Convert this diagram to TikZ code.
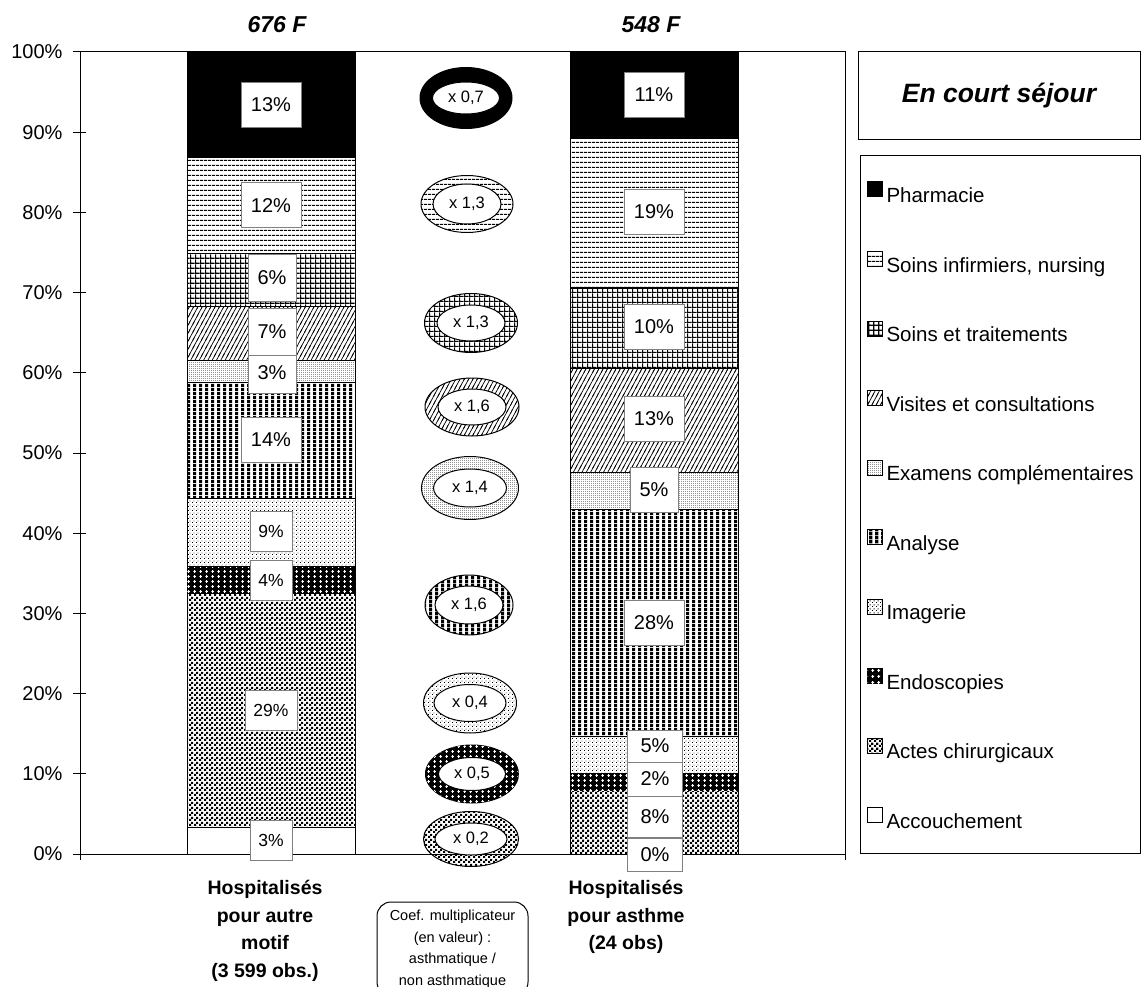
\documentclass[tikz,border=0pt]{standalone}
\usepackage{fontspec}
\setmainfont{Liberation Sans}
\usetikzlibrary{patterns,shapes.geometric}

% motifs:
\pgfdeclarepatternformonly{hlignes}{\pgfpoint{0pt}{0pt}}{\pgfpoint{4pt}{5.3pt}}{\pgfpoint{4pt}{5.3pt}}{%
  \pgfpathrectangle{\pgfpoint{0pt}{0pt}}{\pgfpoint{4pt}{1.2pt}}\pgfusepath{fill}}
\pgfdeclarepatternformonly{vlignes}{\pgfpoint{0pt}{0pt}}{\pgfpoint{5.5pt}{4pt}}{\pgfpoint{5.5pt}{4pt}}{%
  \pgfpathrectangle{\pgfpoint{0pt}{0pt}}{\pgfpoint{3.4pt}{4pt}}\pgfusepath{fill}}
\pgfdeclarepatternformonly{grille}{\pgfpoint{0pt}{0pt}}{\pgfpoint{5.3pt}{5.3pt}}{\pgfpoint{5.3pt}{5.3pt}}{%
  \pgfpathrectangle{\pgfpoint{0pt}{0pt}}{\pgfpoint{5.3pt}{1.4pt}}%
  \pgfpathrectangle{\pgfpoint{0pt}{0pt}}{\pgfpoint{1.4pt}{5.3pt}}\pgfusepath{fill}}
\pgfdeclarepatternformonly{hachures}{\pgfpoint{-1pt}{-2pt}}{\pgfpoint{5.3pt}{10pt}}{\pgfpoint{4.3pt}{8pt}}{%
  \pgfsetlinewidth{0.7pt}\pgfpathmoveto{\pgfpoint{-1pt}{-1.86pt}}\pgfpathlineto{\pgfpoint{5.3pt}{9.86pt}}\pgfusepath{stroke}}
\pgfdeclarepatternformonly{pointsfins}{\pgfpoint{0pt}{0pt}}{\pgfpoint{2.2pt}{2.2pt}}{\pgfpoint{2.2pt}{2.2pt}}{%
  \pgfpathrectangle{\pgfpoint{0pt}{0pt}}{\pgfpoint{0.9pt}{0.9pt}}\pgfusepath{fill}}
\pgfdeclarepatternformonly{points}{\pgfpoint{0pt}{0pt}}{\pgfpoint{4pt}{4pt}}{\pgfpoint{4pt}{4pt}}{%
  \pgfpathrectangle{\pgfpoint{0pt}{0pt}}{\pgfpoint{1pt}{1pt}}%
  \pgfpathrectangle{\pgfpoint{2pt}{2pt}}{\pgfpoint{1pt}{1pt}}\pgfusepath{fill}}
\pgfdeclarepatternformonly{croix}{\pgfpoint{0pt}{0pt}}{\pgfpoint{6pt}{5.4pt}}{\pgfpoint{6pt}{5.4pt}}{%
  \pgfpathrectangle{\pgfpoint{1.5pt}{2.2pt}}{\pgfpoint{3pt}{1pt}}%
  \pgfpathrectangle{\pgfpoint{2.5pt}{1.2pt}}{\pgfpoint{1pt}{3pt}}\pgfusepath{fill}}
\pgfdeclarepatternformonly{damier}{\pgfpoint{0pt}{0pt}}{\pgfpoint{4.6pt}{4.6pt}}{\pgfpoint{4.6pt}{4.6pt}}{%
  \pgfpathrectangle{\pgfpoint{0pt}{0pt}}{\pgfpoint{2.3pt}{2.3pt}}%
  \pgfpathrectangle{\pgfpoint{2.3pt}{2.3pt}}{\pgfpoint{2.3pt}{2.3pt}}\pgfusepath{fill}}

\begin{document}
\begin{tikzpicture}[x=1pt, y=-1pt, line width=1pt,
    pharmacie/.style={fill=black},
    nursing/.style={pattern=hlignes},
    soins/.style={pattern=grille},
    visites/.style={pattern=hachures},
    examens/.style={pattern=pointsfins},
    analyse/.style={pattern=vlignes},
    imagerie/.style={pattern=points},
    endoscopie/.style={fill=black, postaction={pattern=croix, pattern color=white}},
    actes/.style={pattern=damier},
    accouchement/.style={fill=white},
    pct/.style={draw=gray, fill=white, inner sep=0pt, minimum width=60pt, minimum height=45pt, font=\fontsize{20}{24}\selectfont},
    pctlow/.style={pct, minimum width=42pt, minimum height=40pt, font=\fontsize{17.5}{21}\selectfont},
    coef/.style={ellipse, draw, fill=white, inner sep=0pt, minimum width=68pt, minimum height=36pt, font=\fontsize{16.5}{20}\selectfont},
    axe/.style={anchor=east, inner sep=0pt, font=\fontsize{20}{24}\selectfont},
    cat/.style={align=center, inner sep=0pt, font=\bfseries\fontsize{19.5}{27.7}\selectfont},
    tot/.style={inner sep=0pt, font=\bfseries\itshape\fontsize{23}{27}\selectfont},
    leg/.style={anchor=base west, inner sep=0pt, font=\fontsize{20.5}{24}\selectfont}]
  \fill[white] (0,0) rectangle (1141,987);
  \useasboundingbox (0,0) rectangle (1141,987);
  % axes:
  \draw (80,52) -- (845,52) -- (845,860);
  \draw (80,52) -- (80,860);
  \draw (73,854) -- (845,854);
  \draw (73,773.8) -- (86,773.8) (73,693.6) -- (86,693.6) (73,613.4) -- (86,613.4)
        (73,533.2) -- (86,533.2) (73,453) -- (86,453) (73,372.8) -- (86,372.8)
        (73,292.6) -- (86,292.6) (73,212.4) -- (86,212.4) (73,132.2) -- (86,132.2) (73,52) -- (86,52);
  \node[axe] (p0) at (63,854) {0\%};
  \node[axe] (p10) at (63,773.8) {10\%};
  \node[axe] (p20) at (63,693.6) {20\%};
  \node[axe] (p30) at (63,613.4) {30\%};
  \node[axe] (p40) at (63,533.2) {40\%};
  \node[axe] (p50) at (63,453) {50\%};
  \node[axe] (p60) at (63,372.8) {60\%};
  \node[axe] (p70) at (63,292.6) {70\%};
  \node[axe] (p80) at (63,212.4) {80\%};
  \node[axe] (p90) at (63,132.2) {90\%};
  \node[axe] (p100) at (63,52) {100\%};
  % barre 1, autre motif:
  \draw[accouchement] (187,854) rectangle (355,827);
  \draw[actes] (187,827) rectangle (355,593);
  \draw[endoscopie] (187,593) rectangle (355,566);
  \draw[imagerie] (187,566) rectangle (355,498);
  \draw[analyse] (187,498) rectangle (355,382);
  \draw[examens] (187,382) rectangle (355,360);
  \draw[visites] (187,360) rectangle (355,306);
  \draw[soins] (187,306) rectangle (355,254);
  \draw[nursing] (187,254) rectangle (355,158);
  \draw[pharmacie] (187,158) rectangle (355,52);
  \node[pctlow] (a1) at (271,840) {3\%};
  \node[pctlow, minimum width=52pt] (a2) at (271,710) {29\%};
  \node[pctlow] (a3) at (271,580) {4\%};
  \node[pctlow] (a4) at (271,531.5) {9\%};
  \node[pct] (a5) at (271,440) {14\%};
  \node[pct, minimum width=48pt, minimum height=40pt] (a6) at (272,373) {3\%};
  \node[pct, minimum width=48pt, minimum height=47pt] (a7) at (272,331.5) {7\%};
  \node[pct, minimum width=48pt, minimum height=47pt] (a8) at (272,278) {6\%};
  \node[pct] (a9) at (271,205.5) {12\%};
  \node[pct] (a10) at (271,105) {13\%};
  % barre 2, asthme:
  \draw[actes] (570,854) rectangle (738,790);
  \draw[endoscopie] (570,790) rectangle (738,773);
  \draw[imagerie] (570,773) rectangle (738,736);
  \draw[analyse] (570,736) rectangle (738,509);
  \draw[examens] (570,509) rectangle (738,472);
  \draw[visites] (570,472) rectangle (738,368);
  \draw[soins] (570,368) rectangle (738,288);
  \draw[nursing] (570,288) rectangle (738,139);
  \draw[pharmacie] (570,139) rectangle (738,52);
  \node[pct, minimum width=55pt, minimum height=33pt] (b1) at (655,854.5) {0\%};
  \node[pct, minimum width=55pt, minimum height=41pt] (b2) at (655,817) {8\%};
  \node[pct, minimum width=55pt, minimum height=35pt] (b3) at (655,779) {2\%};
  \node[pct, minimum width=55pt, minimum height=32pt] (b4) at (655,746) {5\%};
  \node[pct] (b5) at (654,622.5) {28\%};
  \node[pct, minimum width=48pt] (b6) at (654,490) {5\%};
  \node[pct] (b7) at (654,418.5) {13\%};
  \node[pct] (b8) at (654,326.5) {10\%};
  \node[pct] (b9) at (654,212) {19\%};
  \node[pct] (b10) at (654,95) {11\%};
  % coefficients:
  \draw[pharmacie] (466,98) ellipse [x radius=46, y radius=30.5];
  \node[coef, minimum width=67pt, minimum height=32pt] (k1) at (466,98) {x 0,7};
  \draw[nursing] (467,204) ellipse [x radius=46, y radius=28.5];
  \node[coef, minimum height=40pt] (k2) at (467,204) {x 1,3};
  \draw[soins] (471,323) ellipse [x radius=46.5, y radius=29.5];
  \node[coef] (k3) at (471,323) {x 1,3};
  \draw[visites] (472,407) ellipse [x radius=47, y radius=29];
  \node[coef] (k4) at (472,407) {x 1,6};
  \draw[examens] (470,488) ellipse [x radius=48.5, y radius=31.5];
  \node[coef, minimum width=73pt, minimum height=38pt] (k5) at (470,488) {x 1,4};
  \draw[analyse] (469,605) ellipse [x radius=44, y radius=30];
  \node[coef, minimum height=38pt] (k6) at (469,605) {x 1,6};
  \draw[imagerie] (470,703) ellipse [x radius=46.5, y radius=30];
  \node[coef, minimum width=72pt, minimum height=37pt] (k7) at (470,703) {x 0,4};
  \draw[endoscopie] (472,774) ellipse [x radius=46.5, y radius=29];
  \node[coef, minimum width=67pt, minimum height=33pt] (k8) at (472,774) {x 0,5};
  \draw[actes] (471,839) ellipse [x radius=47.5, y radius=27.5];
  \node[coef, minimum width=72pt, minimum height=32pt] (k9) at (471,839) {x 0,2};
  % totaux et categories:
  \node[tot] (t1) at (277,25) {676 F};
  \node[tot] (t2) at (651,25) {548 F};
  \node[cat] (autre) at (265,931) {Hospitalisés\\pour autre\\motif\\(3 599 obs.)};
  \node[cat] (asthme) at (626,917) {Hospitalisés\\pour asthme\\(24 obs)};
  \node[draw, rounded corners=14pt, align=center, minimum width=151pt, minimum height=94pt,
        font=\fontsize{14.5}{21.5}\selectfont] (coefs) at (452.5,949) {Coef. multiplicateur\\(en valeur) :\\asthmatique /\\non asthmatique};
  % legende:
  \node[draw, minimum width=282pt, minimum height=88pt, font=\bfseries\itshape\fontsize{26.5}{30}\selectfont] (titre) at (999,96) {En court séjour};
  \draw (860.5,156) rectangle (1140,853);
  \draw[pharmacie] (867.5,182) rectangle (882.5,197);
  \node[leg] (l1) at (886,202.7) {Pharmacie};
  \draw[nursing] (867.5,251.5) rectangle (882.5,266.5);
  \node[leg] (l2) at (886,272.2) {Soins infirmiers, nursing};
  \draw[soins] (867.5,321) rectangle (882.5,336);
  \node[leg] (l3) at (886,341.7) {Soins et traitements};
  \draw[visites] (867.5,390.5) rectangle (882.5,405.5);
  \node[leg] (l4) at (886,411.2) {Visites et consultations};
  \draw[examens] (867.5,460) rectangle (882.5,475);
  \node[leg] (l5) at (886,480.7) {Examens complémentaires};
  \draw[analyse] (867.5,529.5) rectangle (882.5,544.5);
  \node[leg] (l6) at (886,550.2) {Analyse};
  \draw[imagerie] (867.5,599) rectangle (882.5,614);
  \node[leg] (l7) at (886,619.7) {Imagerie};
  \draw[endoscopie] (867.5,668.5) rectangle (882.5,683.5);
  \node[leg] (l8) at (886,689.2) {Endoscopies};
  \draw[actes] (867.5,738) rectangle (882.5,753);
  \node[leg] (l9) at (886,758.7) {Actes chirurgicaux};
  \draw[accouchement] (867.5,807.5) rectangle (882.5,822.5);
  \node[leg] (l10) at (886,828.2) {Accouchement};
\end{tikzpicture}
\end{document}
